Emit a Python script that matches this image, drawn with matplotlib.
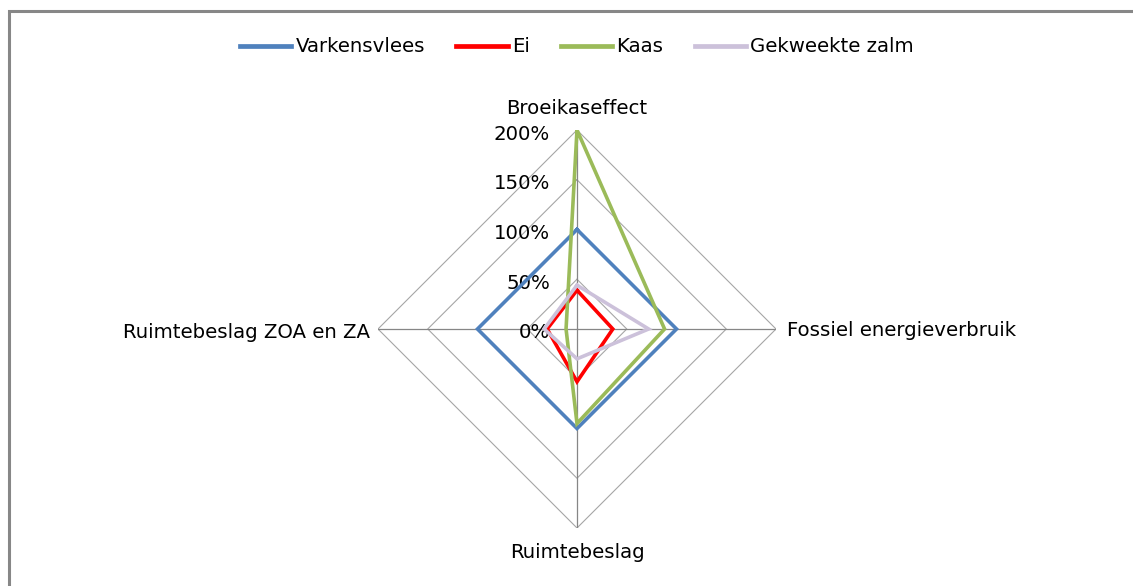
import numpy as np
import matplotlib.pyplot as plt
from matplotlib.patches import Rectangle

# axes of the radar, clockwise from the top
categories = ['Broeikaseffect', 'Fossiel energieverbruik', 'Ruimtebeslag', 'Ruimtebeslag ZOA en ZA']

# values in percent
varkensvlees = [100, 100, 100, 100]
ei = [39, 36, 53, 30]
kaas = [200, 88, 95, 11]
gekweekte_zalm = [44, 72, 30, 33]

series_names = ['Varkensvlees', 'Ei', 'Kaas', 'Gekweekte zalm']
colors = ['#4F81BD', '#FF0000', '#9BBB59', '#CCC1DA']

grid_levels = [50, 100, 150, 200]
tick_levels = [0, 50, 100, 150, 200]
tick_labels = ['0%', '50%', '100%', '150%', '200%']

FS = 14.2


def closed(vals):
    return list(vals) + [vals[0]]


def main():
    plt.rcParams['font.family'] = ['DejaVu Sans']
    fig = plt.figure(figsize=(11.33, 5.86), dpi=100)
    W, H = 1133, 586

    # gray frame of the chart area (runs off the right and bottom)
    fig.patches.append(Rectangle((9 / W, -0.2), 1.5, 1.2 - 11 / H, transform=fig.transFigure,
                                 fill=False, edgecolor='#878787', linewidth=2.2))

    cx, cy, r = 577, 329, 199
    ax = fig.add_axes([(cx - r) / W, (H - cy - r) / H, 2 * r / W, 2 * r / H], projection='polar')
    ax.set_theta_offset(np.pi / 2)
    ax.set_theta_direction(-1)
    ax.set_ylim(0, 200)
    ax.grid(False)
    ax.spines['polar'].set_visible(False)
    ax.set_xticks([])
    ax.set_yticks([])
    ax.patch.set_alpha(0)

    angles = np.linspace(0, 2 * np.pi, len(categories), endpoint=False)
    ang_c = closed(angles)

    # diamond grid and spokes
    for lvl in grid_levels:
        ax.plot(ang_c, [lvl] * (len(categories) + 1), color='#A6A6A6', lw=0.8, zorder=1)
    for a in angles:
        ax.plot([a, a], [0, 200], color='#868686', lw=0.9, zorder=1)

    # radial tick labels along the top spoke
    for lvl, lab in zip(tick_levels, tick_labels):
        ax.annotate(lab, xy=(0, lvl), xytext=(-27, -4), textcoords='offset pixels',
                    ha='right', va='center', fontsize=FS, color='black')

    # category labels
    offsets = [((0, 22), 'center', 'center'), ((11, -2), 'left', 'center'),
               ((0, -24), 'center', 'center'), ((-8, -3), 'right', 'center')]
    for a, cat, (off, ha, va) in zip(angles, categories, offsets):
        ax.annotate(cat, xy=(a, 200), xytext=off, textcoords='offset pixels',
                    ha=ha, va=va, fontsize=FS, color='black')

    data = [varkensvlees, ei, kaas, gekweekte_zalm]
    for name, vals, col in zip(series_names, data, colors):
        ax.plot(ang_c, closed(vals), color=col, lw=2.6, label=name, zorder=3,
                solid_joinstyle='miter')

    handles, labels = ax.get_legend_handles_labels()
    leg = fig.legend(handles, labels, loc='center', bbox_to_anchor=(577 / W, 1 - 47 / H), ncol=4,
                     frameon=False, fontsize=FS, handlelength=2.6, handletextpad=0.2,
                     columnspacing=1.6)
    for line in leg.get_lines():
        line.set_linewidth(3.4)

    fig.savefig('out.png', dpi=100, facecolor='white')


if __name__ == '__main__':
    main()
